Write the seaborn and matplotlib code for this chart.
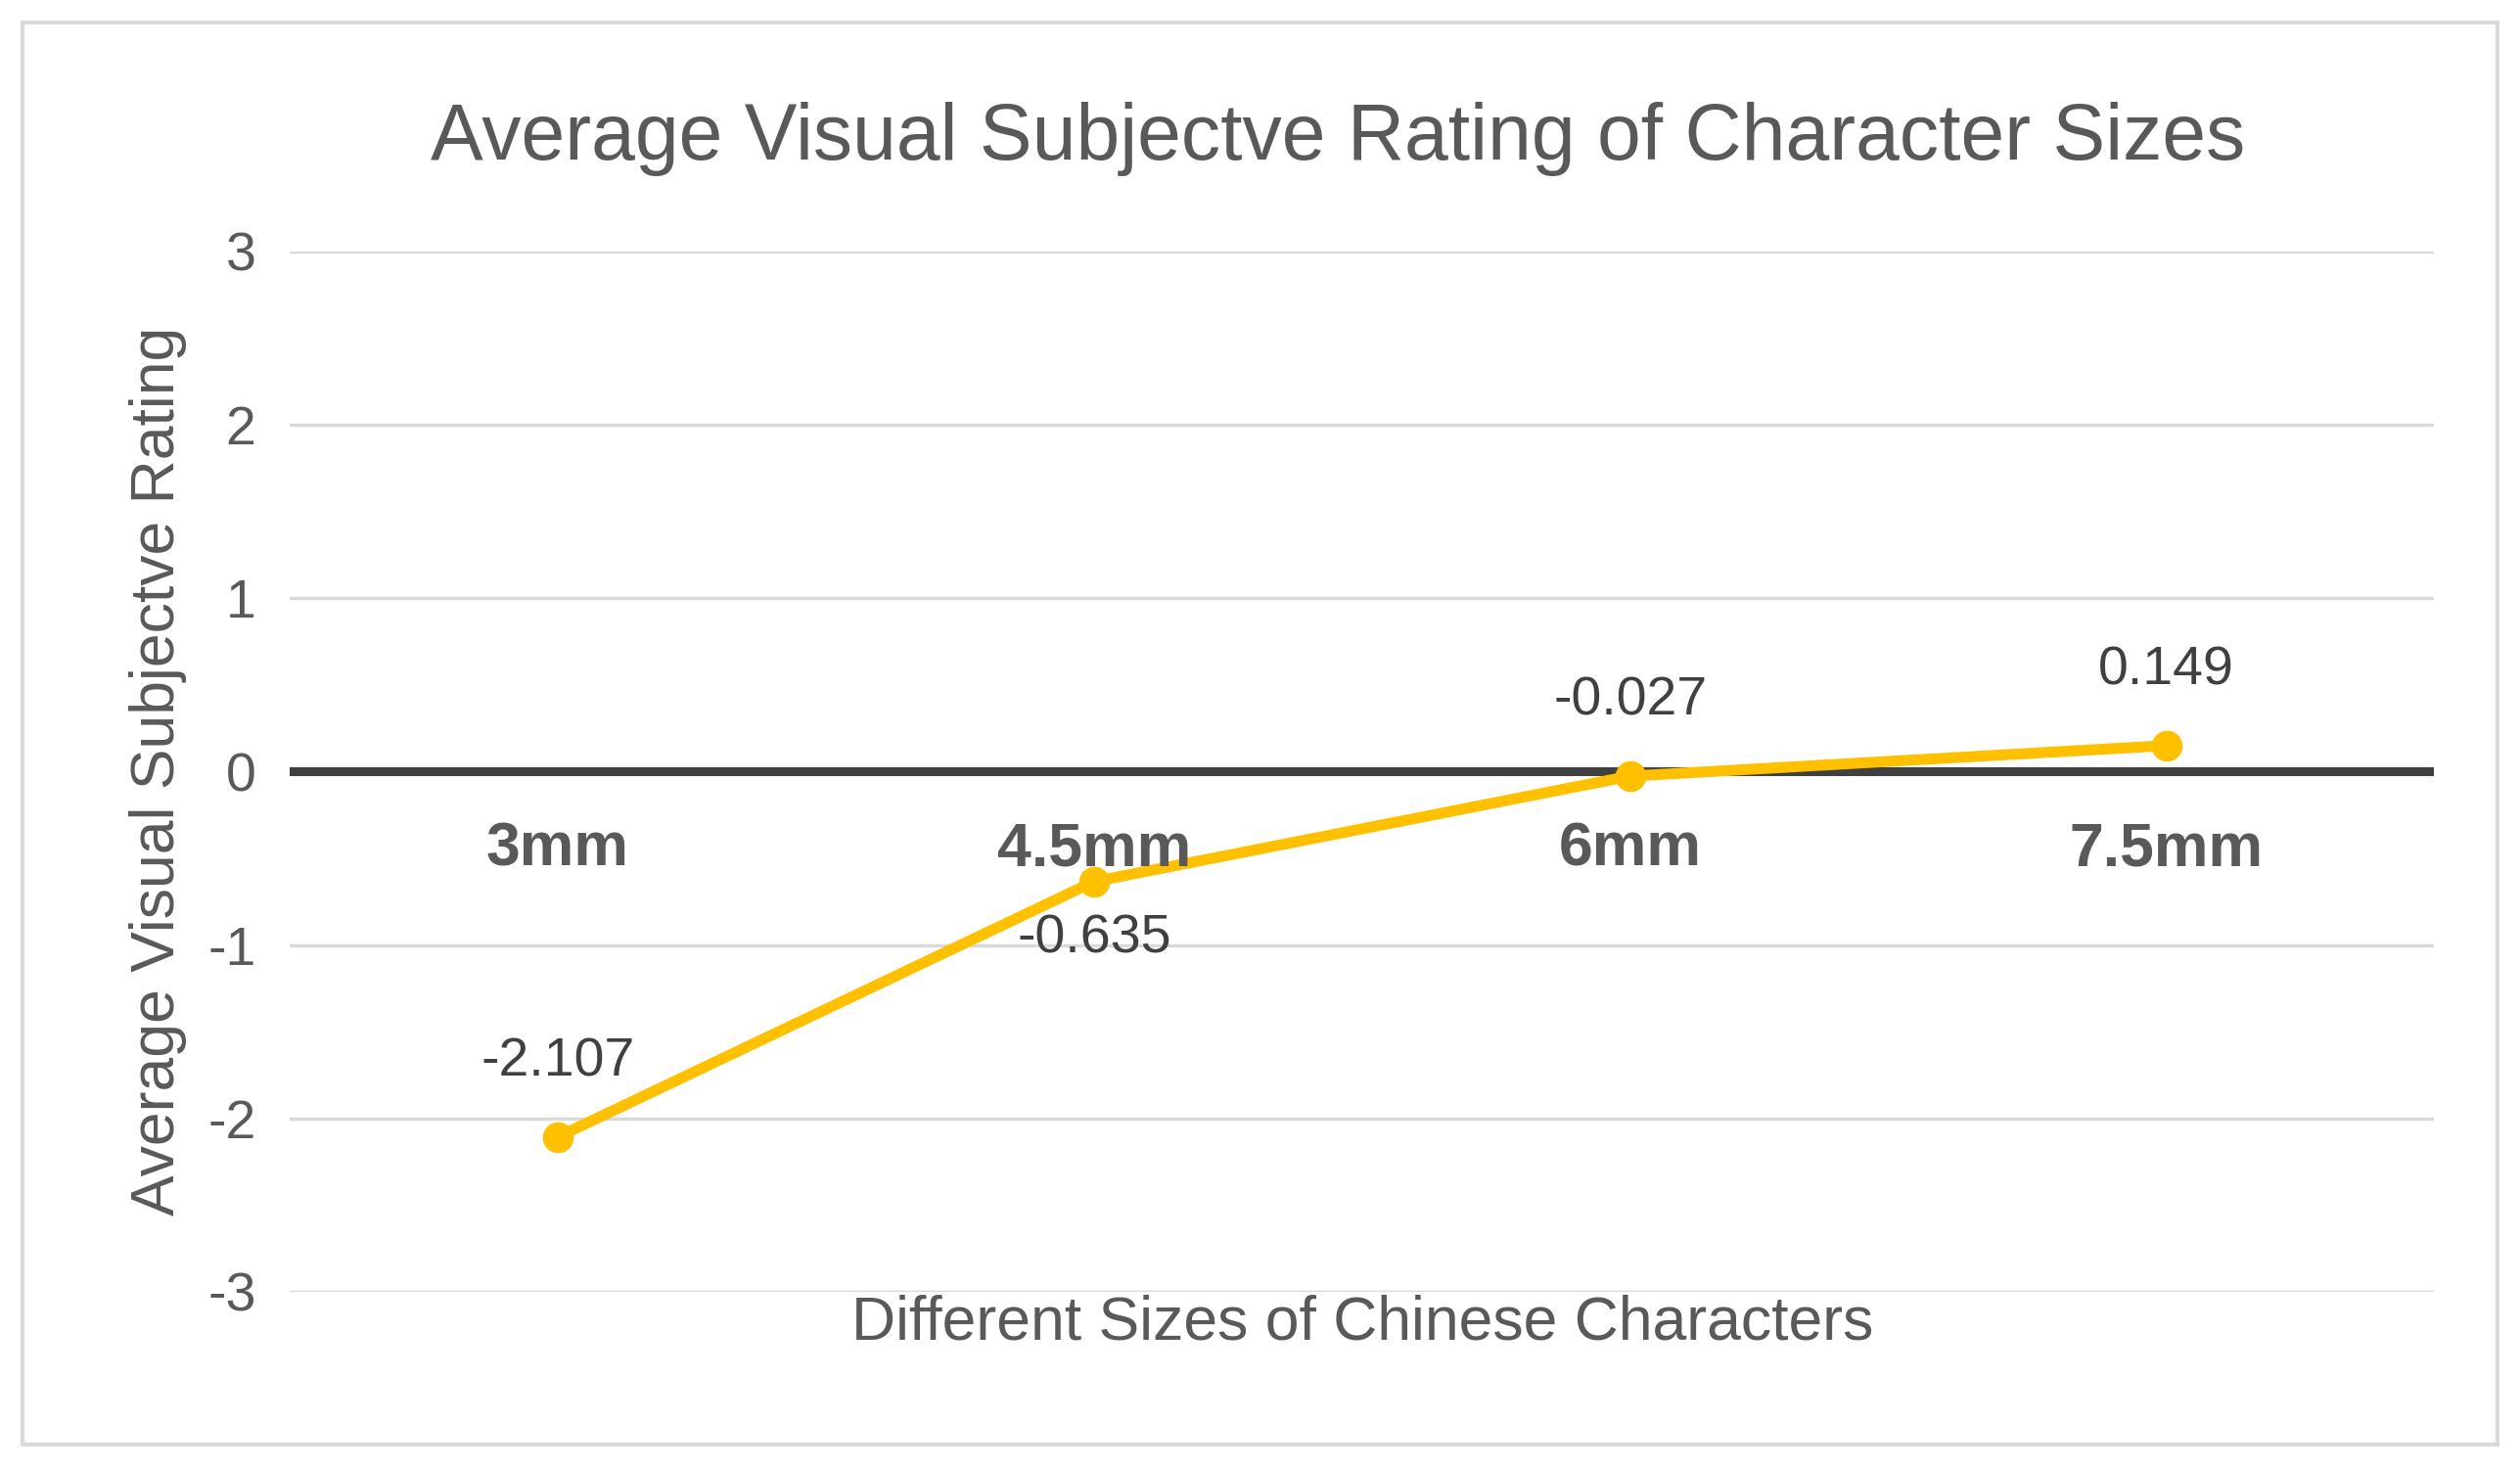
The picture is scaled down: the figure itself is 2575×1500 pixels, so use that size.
import matplotlib
matplotlib.use("Agg")
import matplotlib.pyplot as plt
import seaborn as sns
import pandas as pd
from matplotlib.patches import Rectangle

categories = ["3mm", "4.5mm", "6mm", "7.5mm"]
ratings = [-2.107, -0.635, -0.027, 0.149]
label_above = [True, False, True, True]
yticks = [-3, -2, -1, 0, 1, 2, 3]

sns.set_theme(style="white")
plt.rcParams['font.family'] = ['Liberation Sans', 'DejaVu Sans']
gray = "#595959"

df = pd.DataFrame({"x": range(len(categories)), "y": ratings})
fig = plt.figure(figsize=(25.75, 15), dpi=100)
fig.patches.append(Rectangle((0.009, 0.016), 0.982, 0.969, transform=fig.transFigure,
                             fill=False, edgecolor="#d9d9d9", linewidth=3))
ax = fig.add_axes([0.115, 0.12, 0.851, 0.709])

for t in yticks:
    if t != 0:
        ax.axhline(t, color="#d9d9d9", lw=2.5, zorder=0)
ax.axhline(0, color="#404040", lw=6.5, zorder=1)

sns.lineplot(data=df, x="x", y="y", ax=ax, color="#FFC000", lw=8,
             marker="o", markersize=22, markeredgecolor="#FFC000", zorder=3)

for i, (c, v, ab) in enumerate(zip(categories, ratings, label_above)):
    ax.text(i, -0.45, c, ha="center", va="center", fontsize=45, fontweight="bold", color=gray)
    ax.annotate(f"{v:.3f}", (i, v), xytext=(0, 55 if ab else -42),
                textcoords="offset points", ha="center", va="center", fontsize=40, color="#404040")

ax.set_xlim(-0.5, 3.5)
ax.set_ylim(-3, 3)
ax.set_xticks([])
ax.set_yticks(yticks)
ax.set_yticklabels([str(t) for t in yticks], fontsize=40, color=gray)
ax.tick_params(axis="y", length=0, pad=25)
for s in ax.spines.values():
    s.set_visible(False)
ax.set_xlabel("Different Sizes of Chinese Characters", fontsize=45, color=gray, labelpad=2)
ax.set_ylabel("Average Visual Subjectve Rating", fontsize=45, color=gray, labelpad=15)
fig.text(0.531, 0.905, "Average Visual Subjectve Rating of Character Sizes",
         ha="center", va="center", fontsize=58, color=gray)
fig.savefig("out.png", dpi=100)
